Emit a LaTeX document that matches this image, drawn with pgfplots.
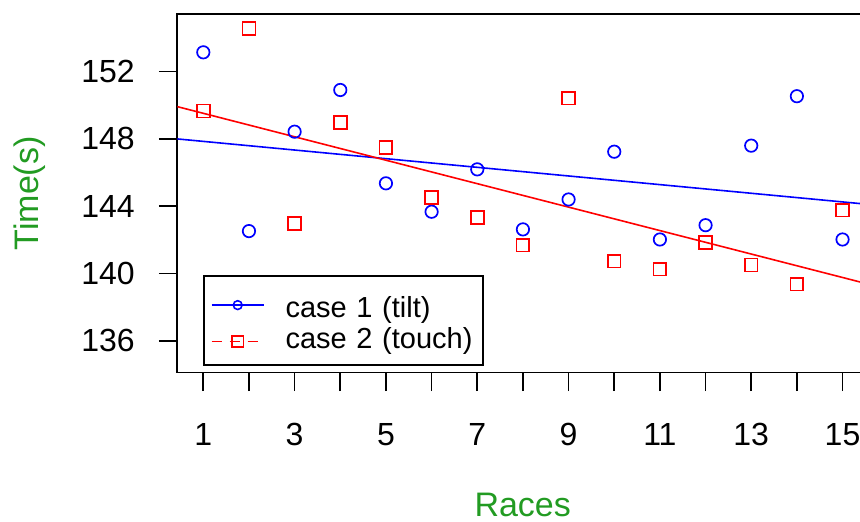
\documentclass[border=0pt]{standalone}
\usepackage{fontspec}
\setmainfont{Liberation Sans}
\usepackage{pgfplots}
\usepackage{pgfplotstable}
\pgfplotsset{compat=1.18}
\definecolor{lblgreen}{RGB}{34,155,34}
\definecolor{ptblue}{RGB}{0,0,255}
\definecolor{ptred}{RGB}{255,0,0}

\pgfplotstableread{
x y
1 153.15
2 142.52
3 148.43
4 150.91
5 145.36
6 143.67
7 146.19
8 142.62
9 144.40
10 147.24
11 142.02
12 142.87
13 147.60
14 150.54
15 142.02
}\tilt

\pgfplotstableread{
x y
1 149.66
2 154.58
3 142.98
4 148.99
5 147.48
6 144.52
7 143.33
8 141.68
9 150.42
10 140.73
11 140.26
12 141.85
13 140.50
14 139.36
15 143.77
}\touch

\begin{document}
\begin{tikzpicture}
\useasboundingbox (-88.65pt,-74.25pt) rectangle (341.35pt,186.25pt);
\clip (-88.65pt,-74.25pt) rectangle (341.35pt,186.25pt);
\begin{axis}[
  at={(0pt,0pt)}, anchor=south west,
  scale only axis, width=345.4pt, height=179.1pt,
  xmin=0.4306, xmax=15.56, ymin=134.11, ymax=155.41,
  xtick={1,...,15}, xticklabels={1,,3,,5,,7,,9,,11,,13,,15},
  ytick={136,140,144,148,152},
  xtick pos=left, ytick pos=left,
  tick align=outside, major tick length=9.25pt,
  axis line style={line width=0.9pt, black},
  every tick/.style={black, line width=0.8pt},
  tick label style={font=\fontsize{16}{19}\selectfont},
  xticklabel style={yshift=-12.5pt},
  yticklabel style={xshift=-8.5pt},
  /pgf/number format/assume math mode=true,
  xlabel={Races}, ylabel={Time(s)},
  every axis x label/.style={at={(axis description cs:0.5,0)}, yshift=-66pt, anchor=center, font=\fontsize{17}{20}\selectfont, text=lblgreen},
  every axis y label/.style={at={(axis description cs:0,0.5)}, xshift=-73.6pt, rotate=90, anchor=center, font=\fontsize{17}{20}\selectfont, text=lblgreen},
  every mark/.append style={xscale=1.15},
  legend style={at={(rel axis cs:0.03764,0.01815)}, anchor=south west,
    draw=black, line width=0.9pt, inner xsep=3.35pt, inner ysep=4.1pt,
    font=\fontsize{14.5}{17}\selectfont, cells={anchor=west},
    nodes={inner sep=0pt, text height=11pt, text depth=4.3pt},
    /tikz/every odd column/.style={column sep=10.5pt}},
  legend image code/.code={\draw[mark repeat=2, mark phase=2, #1] plot coordinates {(0pt,0pt) (13pt,0pt) (26pt,0pt)};},
]
\addplot[only marks, ptblue, mark=o, mark size=3.1pt, line width=0.85pt, forget plot] table[x=x,y=y] {\tilt};
\addplot[only marks, ptred, mark=square, mark size=3.2pt, line width=0.85pt, forget plot] table[x=x,y=y] {\touch};
\addplot[ptblue, line width=0.8pt, forget plot] coordinates {(0.4306,148.0) (15.56,144.11)};
\addplot[ptred, line width=0.8pt, forget plot] coordinates {(0.4306,149.92) (15.56,139.37)};
\addlegendimage{ptblue, line width=0.8pt, mark=o, mark size=2.2pt}
\addlegendentry[text width=95.3pt, text height=16.9pt]{case 1 (tilt)}
\addlegendimage{ptred, line width=0.8pt, mark=square, mark size=2.8pt, dash pattern=on 5pt off 4pt, mark options={solid}}
\addlegendentry[text width=95.3pt]{case 2 (touch)}
\end{axis}
\end{tikzpicture}
\end{document}
